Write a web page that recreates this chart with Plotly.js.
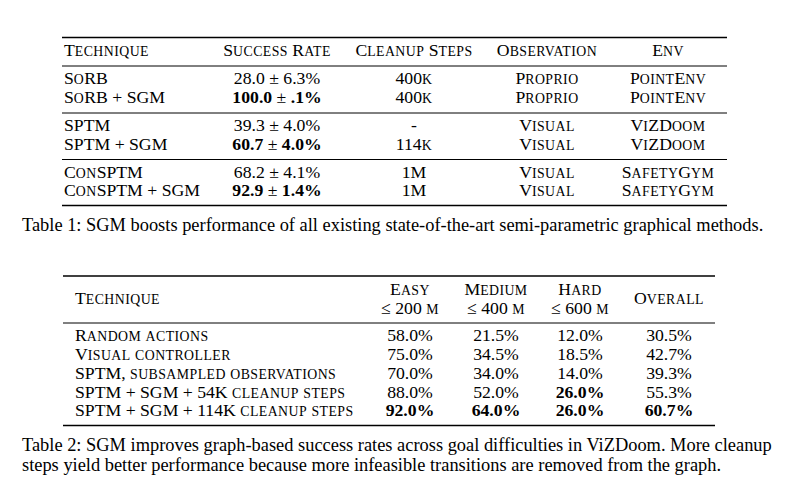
<!DOCTYPE html>
<html><head><meta charset="utf-8">
<script src="https://cdn.plot.ly/plotly-3.0.1.min.js"></script>
<style>html,body{margin:0;padding:0;background:#fff}#chart{width:790px;height:486px}</style>
</head><body><div id="chart"></div>
<script>
// ---------- Table 1 data ----------
const t1Headers = ["Technique", "Success Rate", "Cleanup Steps", "Observation", "Env"];
const t1Technique = ["SoRB", "SoRB + SGM", "SPTM", "SPTM + SGM", "ConSPTM", "ConSPTM + SGM"];
const t1SuccessMean = ["28.0", "100.0", "39.3", "60.7", "68.2", "92.9"];
const t1SuccessStd = ["6.3", ".1", "4.0", "4.0", "4.1", "1.4"];
const t1SuccessBold = [false, true, false, true, false, true];
const t1Cleanup = ["400k", "400k", "-", "114k", "1M", "1M"];
const t1Observation = ["Proprio", "Proprio", "Visual", "Visual", "Visual", "Visual"];
const t1Env = ["PointEnv", "PointEnv", "ViZDoom", "ViZDoom", "SafetyGym", "SafetyGym"];
const t1Group = [0, 0, 1, 1, 2, 2];
const caption1 = "Table 1: SGM boosts performance of all existing state-of-the-art semi-parametric graphical methods.";

// ---------- Table 2 data ----------
const t2Headers = ["Technique", "Easy", "Medium", "Hard", "Overall"];
const t2Subheaders = ["", "≤ 200 m", "≤ 400 m", "≤ 600 m", ""];
const t2Technique = ["Random actions", "Visual controller", "SPTM, subsampled observations",
  "SPTM + SGM + 54K cleanup steps", "SPTM + SGM + 114K cleanup steps"];
const t2Easy = [58.0, 75.0, 70.0, 88.0, 92.0];
const t2Medium = [21.5, 34.5, 34.0, 52.0, 64.0];
const t2Hard = [12.0, 18.5, 14.0, 26.0, 26.0];
const t2Overall = [30.5, 42.7, 39.3, 55.3, 60.7];
const caption2 = ["Table 2: SGM improves graph-based success rates across goal difficulties in ViZDoom. More cleanup",
  "steps yield better performance because more infeasible transitions are removed from the graph."];

// ---------- styling / layout ----------
const FONT = '"Liberation Serif", "Times New Roman", Times, serif';
const SIZE = 17.7;
const SC_SIZE = 13.8;
const SC_SPACING = 0.45;
const CAP_SIZE = 18.4;
const INK = '#000';

function sc(str) {
  // LaTeX-like small caps: lowercase letters drawn as smaller, slightly tracked capitals
  let out = '', buf = '';
  const flush = () => { if (buf) { out += '<span style="font-size:' + SC_SIZE + 'px;letter-spacing:' + SC_SPACING + 'px">' + buf.toUpperCase() + '</span>'; buf = ''; } };
  for (const ch of str) {
    if (/[a-z]/.test(ch)) buf += ch; else { flush(); out += ch; }
  }
  flush();
  return out;
}
const bold = s => '<b>' + s + '</b>';

const G1 = { colX: [64, 277, 414, 547, 668], headerY: 52, row0: 80, rowH: 18.4, groupGap: 10,
  ruleX: [62, 727], top: 37.5, mid: 66, groupRules: [113, 159.5], bottom: 205.5 };
const G2 = { colX: [75, 410, 496, 580, 669], head1: 290.5, head2: 309.5, headMid: 300, row0: 337, rowH: 18.7,
  ruleX: [63, 715], top: 276, mid: 323, bottom: 425.5 };

const traces = [];
function textTrace(xs, ys, texts, left) {
  traces.push({ type: 'scatter', mode: 'text', x: xs, y: ys, text: texts,
    textposition: left ? 'middle right' : 'middle center',
    textfont: { family: FONT, size: SIZE, color: INK }, hoverinfo: 'skip', showlegend: false, cliponaxis: false });
}

// Table 1 header
t1Headers.forEach((h, c) => textTrace([G1.colX[c]], [G1.headerY], [sc(h)], c === 0));
// Table 1 body
const t1Y = t1Technique.map((_, i) => G1.row0 + i * G1.rowH + t1Group[i] * G1.groupGap);
const t1Success = t1SuccessMean.map((m, i) => t1SuccessBold[i]
  ? bold(m) + ' ± ' + bold(t1SuccessStd[i] + '%') : m + ' ± ' + t1SuccessStd[i] + '%');
const t1Cols = [t1Technique.map(sc), t1Success, t1Cleanup.map(sc), t1Observation.map(sc), t1Env.map(sc)];
t1Cols.forEach((col, c) => textTrace(col.map(() => G1.colX[c]), t1Y, col, c === 0));

// Table 2 header
t2Headers.forEach((h, c) => {
  if (t2Subheaders[c]) {
    textTrace([G2.colX[c], G2.colX[c]], [G2.head1, G2.head2], [sc(h), sc(t2Subheaders[c])], false);
  } else {
    textTrace([G2.colX[c]], [G2.headMid], [sc(h)], c === 0);
  }
});
// Table 2 body
const t2Y = t2Technique.map((_, i) => G2.row0 + i * G2.rowH);
const fmtCol = arr => { const mx = Math.max(...arr); return arr.map(v => { const s = v.toFixed(1) + '%'; return v === mx ? bold(s) : s; }); };
const t2Cols = [t2Technique.map(sc), fmtCol(t2Easy), fmtCol(t2Medium), fmtCol(t2Hard), fmtCol(t2Overall)];
t2Cols.forEach((col, c) => textTrace(col.map(() => G2.colX[c]), t2Y, col, c === 0));

// booktabs rules
const shapes = [];
function rule(x, y, w) {
  shapes.push({ type: 'line', xref: 'x', yref: 'y', x0: x[0], x1: x[1], y0: y, y1: y, line: { color: INK, width: w } });
}
rule(G1.ruleX, G1.top, 1.6); rule(G1.ruleX, G1.mid, 1); G1.groupRules.forEach(y => rule(G1.ruleX, y, 1)); rule(G1.ruleX, G1.bottom, 1.6);
rule(G2.ruleX, G2.top, 1.6); rule(G2.ruleX, G2.mid, 1); rule(G2.ruleX, G2.bottom, 1.6);

const capFont = { family: FONT, size: CAP_SIZE, color: INK };
const annotations = [
  { text: caption1, x: 20, y: 225, xref: 'x', yref: 'y', xanchor: 'left', yanchor: 'middle', showarrow: false, font: capFont },
  { text: caption2[0], x: 20, y: 445, xref: 'x', yref: 'y', xanchor: 'left', yanchor: 'middle', showarrow: false, font: capFont },
  { text: caption2[1], x: 20, y: 465, xref: 'x', yref: 'y', xanchor: 'left', yanchor: 'middle', showarrow: false, font: capFont }
];

const layout = {
  width: 790, height: 486, margin: { l: 0, r: 0, t: 0, b: 0 },
  paper_bgcolor: '#fff', plot_bgcolor: '#fff', showlegend: false,
  xaxis: { range: [0, 790], visible: false, fixedrange: true },
  yaxis: { range: [486, 0], visible: false, fixedrange: true },
  shapes, annotations
};
Plotly.newPlot('chart', traces, layout, { staticPlot: true, displayModeBar: false });
</script></body></html>
